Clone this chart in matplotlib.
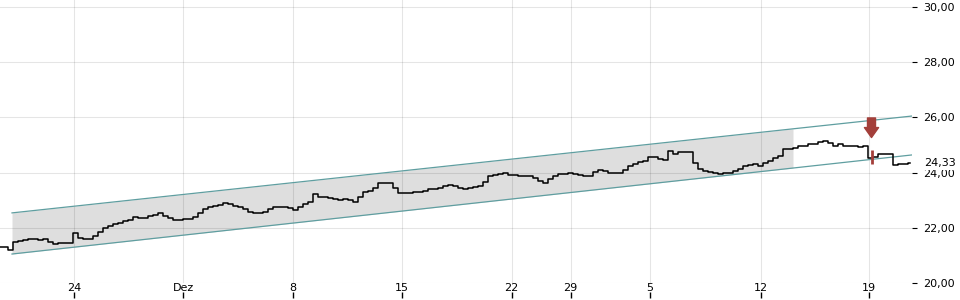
import numpy as np
import matplotlib
matplotlib.use("Agg")
import matplotlib.pyplot as plt
import matplotlib.transforms as mtransforms
from matplotlib.ticker import FuncFormatter

# intraday closes, one value per bar (bar index = x position)
price = [
    21.30, 21.30, 21.20, 21.49, 21.52, 21.56, 21.59, 21.59, 21.56, 21.59,
    21.49, 21.41, 21.45, 21.45, 21.45, 21.81, 21.63, 21.58, 21.61, 21.70,
    21.85, 21.99, 22.08, 22.14, 22.19, 22.26, 22.28, 22.39, 22.36, 22.37,
    22.43, 22.48, 22.52, 22.43, 22.34, 22.30, 22.30, 22.32, 22.32, 22.39,
    22.55, 22.68, 22.75, 22.79, 22.84, 22.90, 22.86, 22.79, 22.74, 22.68,
    22.57, 22.52, 22.52, 22.57, 22.68, 22.75, 22.77, 22.77, 22.72, 22.66,
    22.77, 22.86, 22.95, 23.22, 23.12, 23.10, 23.08, 23.03, 22.99, 23.03,
    23.01, 22.95, 23.12, 23.28, 23.35, 23.44, 23.64, 23.64, 23.61, 23.44,
    23.26, 23.26, 23.26, 23.28, 23.30, 23.32, 23.41, 23.42, 23.46, 23.51,
    23.55, 23.51, 23.44, 23.41, 23.44, 23.48, 23.51, 23.66, 23.88, 23.91,
    23.95, 23.97, 23.93, 23.91, 23.88, 23.88, 23.89, 23.80, 23.70, 23.62,
    23.77, 23.89, 23.95, 23.95, 23.97, 23.95, 23.93, 23.88, 23.86, 24.02,
    24.08, 24.06, 24.00, 23.97, 23.99, 24.09, 24.24, 24.31, 24.38, 24.42,
    24.57, 24.57, 24.49, 24.46, 24.78, 24.67, 24.75, 24.75, 24.75, 24.35,
    24.13, 24.06, 24.02, 23.97, 23.95, 24.00, 24.00, 24.04, 24.13, 24.24,
    24.28, 24.31, 24.24, 24.33, 24.42, 24.53, 24.60, 24.87, 24.87, 24.89,
    24.95, 24.96, 25.02, 25.05, 25.11, 25.13, 25.07, 24.96, 25.02, 24.98,
    24.95, 24.95, 24.93, 24.95, 24.53, 24.57, 24.66, 24.67, 24.67, 24.29,
    24.31, 24.32, 24.33,
]
last_price = 24.33

# x ticks (bar positions) and labels
tick_pos = [14.8, 36.66, 58.66, 80.46, 102.34, 114.14, 130.0, 152.14, 173.86]
tick_labels = ["24", "Dez", "8", "15", "22", "29", "5", "12", "19"]
y_ticks = [20, 22, 24, 26, 28, 30]

# trend channel
chan_x = [2.4, 182.4]
chan_upper = [22.54, 26.05]
chan_lower = [21.05, 24.64]
fill_end = 158.6

# sell signal
signal_x = 174.3
arrow_top, arrow_tip = 25.98, 25.27
spike_lo, spike_hi = 24.31, 24.82

fig = plt.figure(figsize=(9.6, 3.0), dpi=100)
ax = fig.add_axes([0.0, 17 / 300, 912 / 960, 283 / 300])
ax.set_xlim(0, 182.4)
ax.set_ylim(20, 30 + 7 / 27.6)

for s in ax.spines.values():
    s.set_visible(False)

# channel fill + lines
fx = np.array([chan_x[0], fill_end])
fu = np.interp(fx, chan_x, chan_upper)
fl = np.interp(fx, chan_x, chan_lower)
ax.fill_between(fx, fl, fu, color="#dedede", lw=0, zorder=0.3)
ax.plot(chan_x, chan_upper, color="#5f9ea0", lw=0.9, zorder=2)
ax.plot(chan_x, chan_lower, color="#5f9ea0", lw=0.9, zorder=2)

# grid
ax.set_axisbelow(True)
ax.grid(True, color="black", alpha=0.1, lw=0.8)

# price
x = np.arange(len(price))
ax.plot(x, price, color="black", lw=1.1, drawstyle="steps-mid", zorder=3)

# signal
ax.vlines(signal_x, spike_lo, spike_hi, color="#a33f3a", lw=2, zorder=4)
ax.annotate("", xy=(signal_x, arrow_tip), xytext=(signal_x, arrow_top),
            arrowprops=dict(arrowstyle="simple,head_width=0.85,head_length=0.6,tail_width=0.48",
                            color="#a33f3a", shrinkA=0, shrinkB=0, mutation_scale=12),
            zorder=5)

# axes ticks
ax.set_xticks(tick_pos)
ax.set_xticklabels(tick_labels)
ax.tick_params(axis="x", length=0, pad=0, labelsize=8)
trans = mtransforms.blended_transform_factory(ax.transData, ax.transAxes)
ax.plot(tick_pos, [-0.0424] * len(tick_pos), ls="none", marker="|", ms=4,
        mew=1, color="black", transform=trans, clip_on=False)

ax.set_yticks(y_ticks)
ax.yaxis.tick_right()
ax.yaxis.set_major_formatter(FuncFormatter(lambda v, p: f"{v:.2f}".replace(".", ",")))
ax.tick_params(axis="y", direction="out", length=3.6, width=0.8, pad=4.3, labelsize=8)

# last price label
trans_y = mtransforms.blended_transform_factory(ax.transAxes, ax.transData)
ax.text(1.0 + 12 / 912, last_price, f"{last_price:.2f}".replace(".", ","),
        transform=trans_y, ha="left", va="center", fontsize=8,
        bbox=dict(facecolor="white", edgecolor="none", pad=1.0), zorder=6)

fig.savefig("out.png", dpi=100)
